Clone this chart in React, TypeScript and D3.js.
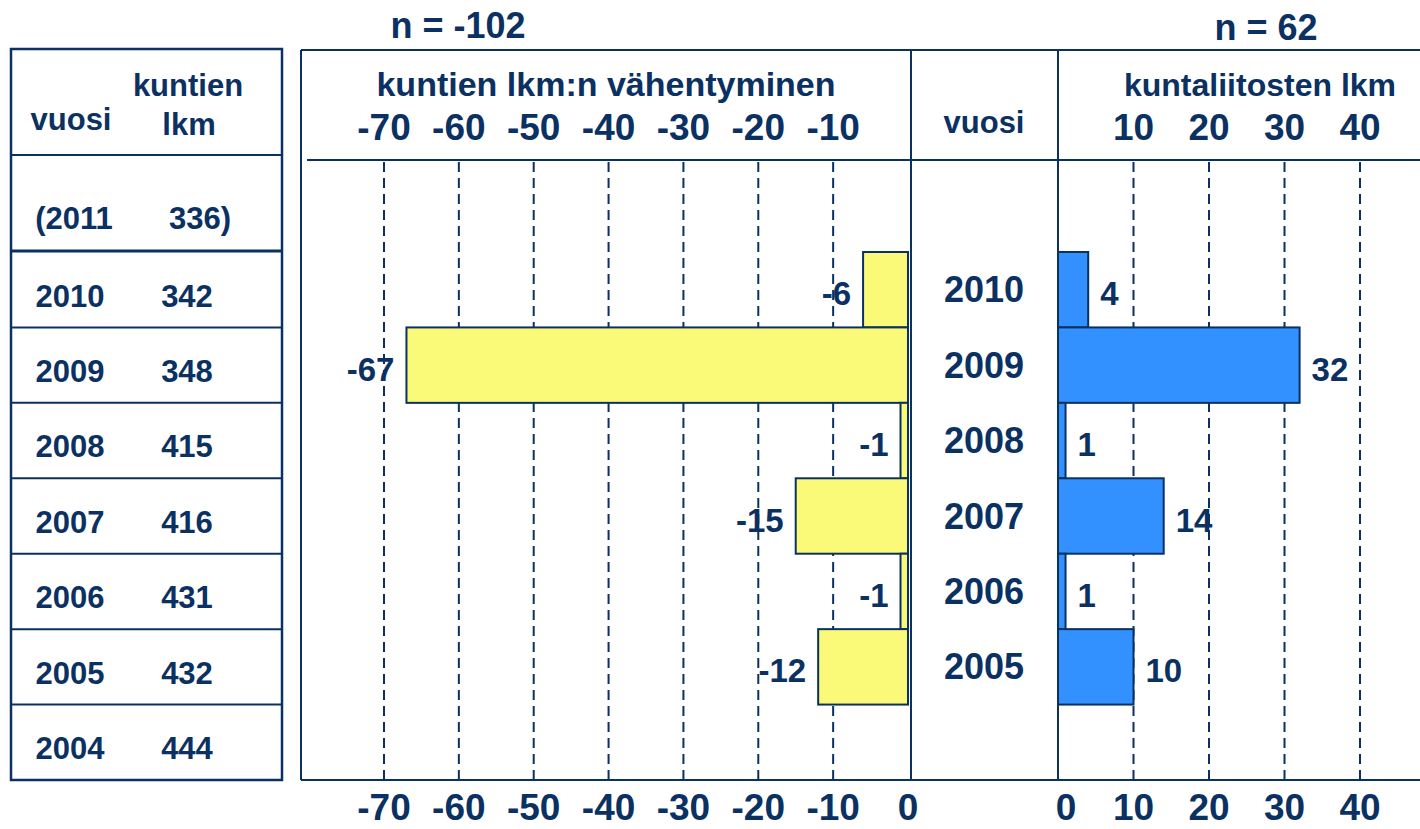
import * as d3 from "d3";

const years = ["2010", "2009", "2008", "2007", "2006", "2005", "2004"];
const municipalityCounts = [342, 348, 415, 416, 431, 432, 444];
const decreaseValues: (number | null)[] = [-6, -67, -1, -15, -1, -12, null];
const mergerValues: (number | null)[] = [4, 32, 1, 14, 1, 10, null];
const latestYear = "2011";
const latestCount = 336;
const leftTicks = [-70, -60, -50, -40, -30, -20, -10];
const leftBottomTicks = [-70, -60, -50, -40, -30, -20, -10, 0];
const rightTicks = [10, 20, 30, 40];
const rightBottomTicks = [0, 10, 20, 30, 40];

const W = 1420;
const H = 829;
const NAVY = "#0b3162";
const YELLOW = "#fafa78";
const BLUE = "#3391ff";
const FONT = "'Liberation Sans', Arial, sans-serif";

export default function App() {
  const y = d3.scaleBand<string>().domain(years).range([252, 780]).padding(0);
  const xLeft = d3.scaleLinear().domain([-70, 0]).range([384, 908]);
  const xRight = d3.scaleLinear().domain([0, 40]).range([1058, 1360]);

  const leftTotal = d3.sum(decreaseValues, (d) => d ?? 0);
  const rightTotal = d3.sum(mergerValues, (d) => d ?? 0);

  const gridTop = 162;
  const gridBottom = 780;
  const yc = (yr: string) => (y(yr) ?? 0) + y.bandwidth() / 2;

  return (
    <svg
      width={W}
      height={H}
      viewBox={`0 0 ${W} ${H}`}
      style={{ position: "absolute", left: 0, top: 0, background: "#fff" }}
      fontFamily={FONT}
      fontWeight="bold"
      fill={NAVY}
    >
      {/* left table */}
      <g stroke={NAVY} fill="none">
        <rect x={11} y={49} width={271} height={731} strokeWidth={2.5} />
        <line x1={11} x2={282} y1={155} y2={155} strokeWidth={2} />
        <line x1={11} x2={282} y1={251} y2={251} strokeWidth={3} />
        {years.slice(1).map((yr) => (
          <line key={yr} x1={11} x2={282} y1={y(yr)} y2={y(yr)} strokeWidth={2} />
        ))}
      </g>
      <g fontSize={31}>
        <text x={71} y={130} textAnchor="middle">vuosi</text>
        <text x={188} y={96} textAnchor="middle">kuntien</text>
        <text x={189} y={135} textAnchor="middle">lkm</text>
        <text x={74} y={229} textAnchor="middle">({latestYear}</text>
        <text x={200} y={229} textAnchor="middle">{latestCount})</text>
        {years.map((yr, i) => (
          <g key={yr}>
            <text x={70} y={yc(yr) + 6} dy="0.35em" textAnchor="middle">{yr}</text>
            <text x={187} y={yc(yr) + 6} dy="0.35em" textAnchor="middle">
              {municipalityCounts[i]}
            </text>
          </g>
        ))}
      </g>

      {/* totals */}
      <text x={458} y={38} fontSize={36} textAnchor="middle">n = {leftTotal}</text>
      <text x={1266} y={40} fontSize={36} textAnchor="middle">n = {rightTotal}</text>

      {/* chart panel frame */}
      <g stroke={NAVY} strokeWidth={2} fill="none">
        <line x1={301} x2={W} y1={50} y2={50} />
        <line x1={301} x2={301} y1={50} y2={780} />
        <line x1={301} x2={W} y1={780} y2={780} />
        <line x1={307} x2={W} y1={160} y2={160} />
        <line x1={xLeft(0) + 3} x2={xLeft(0) + 3} y1={50} y2={780} />
        <line x1={xRight(0)} x2={xRight(0)} y1={50} y2={780} />
      </g>

      {/* headers */}
      <text x={606} y={96} fontSize={34} textAnchor="middle">kuntien lkm:n vähentyminen</text>
      <text x={1260} y={96} fontSize={32} textAnchor="middle">kuntaliitosten lkm</text>
      <text x={984} y={133} fontSize={31} textAnchor="middle">vuosi</text>

      {/* grid lines */}
      <g stroke={NAVY} strokeWidth={2} strokeDasharray="10,6">
        {leftTicks.map((t) => (
          <line key={t} x1={xLeft(t)} x2={xLeft(t)} y1={gridTop} y2={gridBottom} />
        ))}
        {rightTicks.map((t) => (
          <line key={t} x1={xRight(t)} x2={xRight(t)} y1={gridTop} y2={gridBottom} />
        ))}
      </g>

      {/* tick labels */}
      <g fontSize={37} textAnchor="middle">
        {leftTicks.map((t) => (
          <text key={`lt${t}`} x={xLeft(t)} y={140}>{t}</text>
        ))}
        {rightTicks.map((t) => (
          <text key={`rt${t}`} x={xRight(t)} y={140}>{t}</text>
        ))}
        {leftBottomTicks.map((t) => (
          <text key={`lb${t}`} x={xLeft(t)} y={820}>{t}</text>
        ))}
        {rightBottomTicks.map((t) => (
          <text key={`rb${t}`} x={xRight(t) + (t === 0 ? 8 : 0)} y={820}>{t}</text>
        ))}
      </g>

      {/* left bars */}
      {years.map((yr, i) => {
        const v = decreaseValues[i];
        if (v == null) return null;
        const x0 = xLeft(v);
        return (
          <g key={`lbar${yr}`}>
            <rect
              x={x0}
              y={y(yr)}
              width={xLeft(0) - x0}
              height={y.bandwidth()}
              fill={YELLOW}
              stroke={NAVY}
              strokeWidth={2}
            />
            <text x={x0 - 12} y={yc(yr) + 4} dy="0.35em" fontSize={33} textAnchor="end">
              {v}
            </text>
          </g>
        );
      })}

      {/* right bars */}
      {years.map((yr, i) => {
        const v = mergerValues[i];
        if (v == null) return null;
        const x1 = xRight(v);
        return (
          <g key={`rbar${yr}`}>
            <rect
              x={xRight(0)}
              y={y(yr)}
              width={x1 - xRight(0)}
              height={y.bandwidth()}
              fill={BLUE}
              stroke={NAVY}
              strokeWidth={2}
            />
            <text x={x1 + 12} y={yc(yr) + 4} dy="0.35em" fontSize={33}>
              {v}
            </text>
          </g>
        );
      })}

      {/* year labels between the charts */}
      <g fontSize={36} textAnchor="middle">
        {years.map((yr, i) =>
          decreaseValues[i] == null ? null : (
            <text key={`my${yr}`} x={984} y={yc(yr)} dy="0.35em">{yr}</text>
          )
        )}
      </g>
    </svg>
  );
}
